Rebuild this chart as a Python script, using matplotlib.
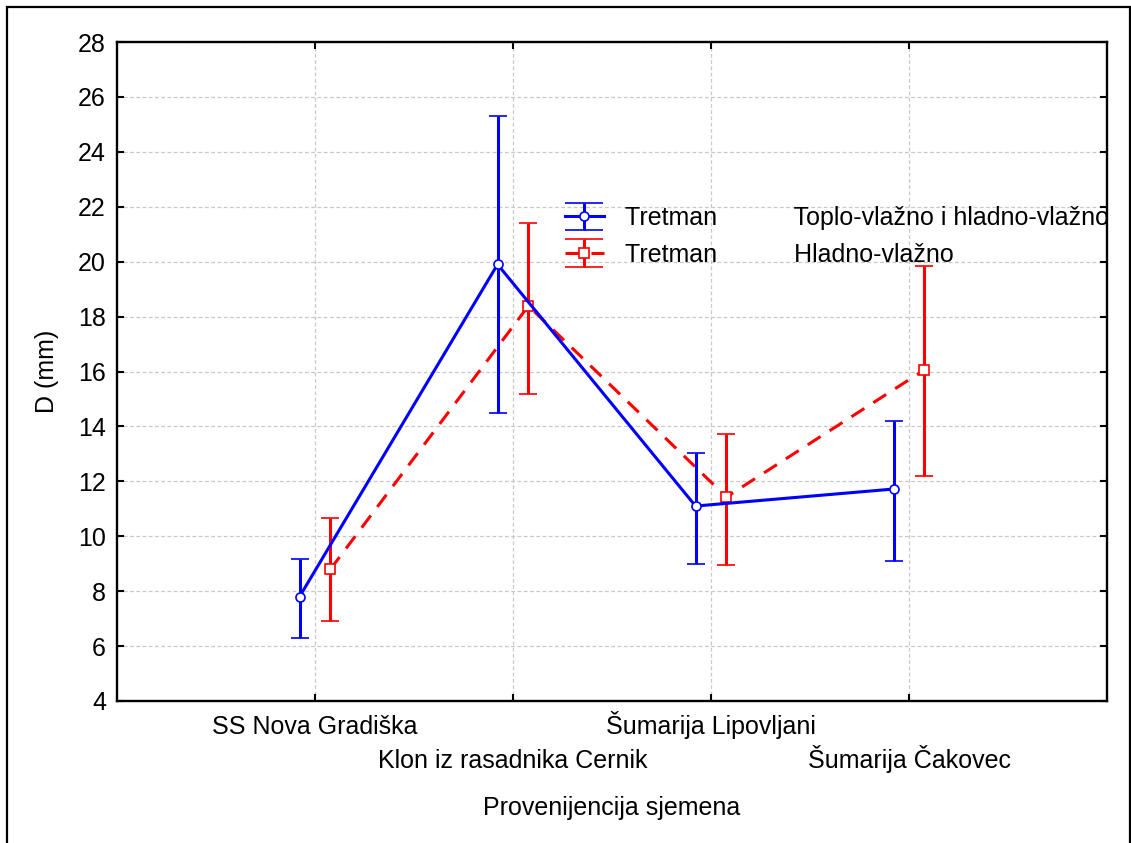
import numpy as np
import matplotlib
matplotlib.use("Agg")
import matplotlib.pyplot as plt
from matplotlib.lines import Line2D
from matplotlib.patches import Rectangle
from matplotlib.legend_handler import HandlerErrorbar

plt.rcParams['font.family'] = ['Liberation Sans', 'DejaVu Sans']

# data
provenance = ['SS Nova Gradiška', 'Klon iz rasadnika Cernik',
              'Šumarija Lipovljani', 'Šumarija Čakovec']
blue_mean = [7.8, 19.9, 11.1, 11.72]
blue_low = [6.31, 14.48, 9.0, 9.09]
blue_high = [9.17, 25.3, 13.04, 14.19]
red_mean = [8.8, 18.39, 11.43, 16.06]
red_low = [6.91, 15.18, 8.94, 12.18]
red_high = [10.65, 21.42, 13.72, 19.84]
label_blue = 'Tretman           Toplo-vlažno i hladno-vlažno'
label_red = 'Tretman           Hladno-vlažno'

FS = 18


class WideCapHandler(HandlerErrorbar):
    # caps in the legend as wide as the handle, like the original
    def create_artists(self, legend, orig_handle, xdescent, ydescent,
                       width, height, fontsize, trans):
        artists = super().create_artists(legend, orig_handle, xdescent, ydescent,
                                         width, height, fontsize, trans)
        for a in artists:
            if isinstance(a, Line2D) and a.get_marker() == '_':
                a.set_markersize(width)
        return artists


W, H = 1131, 843
fig = plt.figure(figsize=(W / 100, H / 100), dpi=100)
ax = fig.add_axes([117 / W, 1 - 701 / H, 990 / W, 659 / H])

x = np.arange(1, len(provenance) + 1)
off = 0.078

m = np.array(blue_mean)
eb1 = ax.errorbar(x - off, m, yerr=[m - np.array(blue_low), np.array(blue_high) - m],
                  color='#0000FF', lw=2.2, elinewidth=2.2, capsize=6.8, capthick=2.2,
                  marker='o', ms=6.5, mfc='white', mec='#0000FF', mew=1.2,
                  label=label_blue, zorder=4)
m = np.array(red_mean)
eb2 = ax.errorbar(x + off, m, yerr=[m - np.array(red_low), np.array(red_high) - m],
                  color='#FF0000', lw=2.2, elinewidth=2.2, capsize=6.8, capthick=2.2,
                  marker='s', ms=6.5, mfc='white', mec='#FF0000', mew=1.2,
                  ls=(0, (5, 3.5)), label=label_red, zorder=3)

ax.set_xlim(0, 5)
ax.set_ylim(4, 28)
ax.set_yticks(np.arange(4, 29, 2))
ax.set_xticks(x)
ax.set_xticklabels(provenance)

ax.grid(True, color='#c8c8c8', ls=(0, (3, 2)), lw=0.9)
ax.set_axisbelow(True)
for s in ax.spines.values():
    s.set_linewidth(1.7)
ax.tick_params(direction='in', length=5, width=1.5, top=True, right=True,
               labelsize=FS, pad=8)

# staggered category labels, two rows on a common baseline
for i, tick in enumerate(ax.xaxis.get_major_ticks()):
    tick.label1.set_verticalalignment('baseline')
    tick.set_pad(24 if i % 2 == 0 else 48)

ax.set_xlabel('Provenijencija sjemena', fontsize=FS, va='center')
ax.xaxis.set_label_coords(0.5, -(808 - 701) / 659)
ax.set_ylabel('D (mm)', fontsize=FS, va='center')
ax.yaxis.set_label_coords(-(117 - 47) / 990, 0.5)

ax.legend(handles=[eb1, eb2], loc='upper left', bbox_to_anchor=(0.4525, 0.751),
          frameon=False, fontsize=FS, borderpad=0, borderaxespad=0,
          handlelength=1.55, handletextpad=0.85, labelspacing=0.5,
          handler_map={type(eb1): WideCapHandler(yerr_size=0.55)})

# outer frame around the whole picture
fig.patches.append(Rectangle((7 / W, -0.02), 1123 / W, 1.02 - 7 / H,
                             transform=fig.transFigure, fill=False,
                             lw=1.6, ec='black'))

fig.savefig('out.png', dpi=100)
